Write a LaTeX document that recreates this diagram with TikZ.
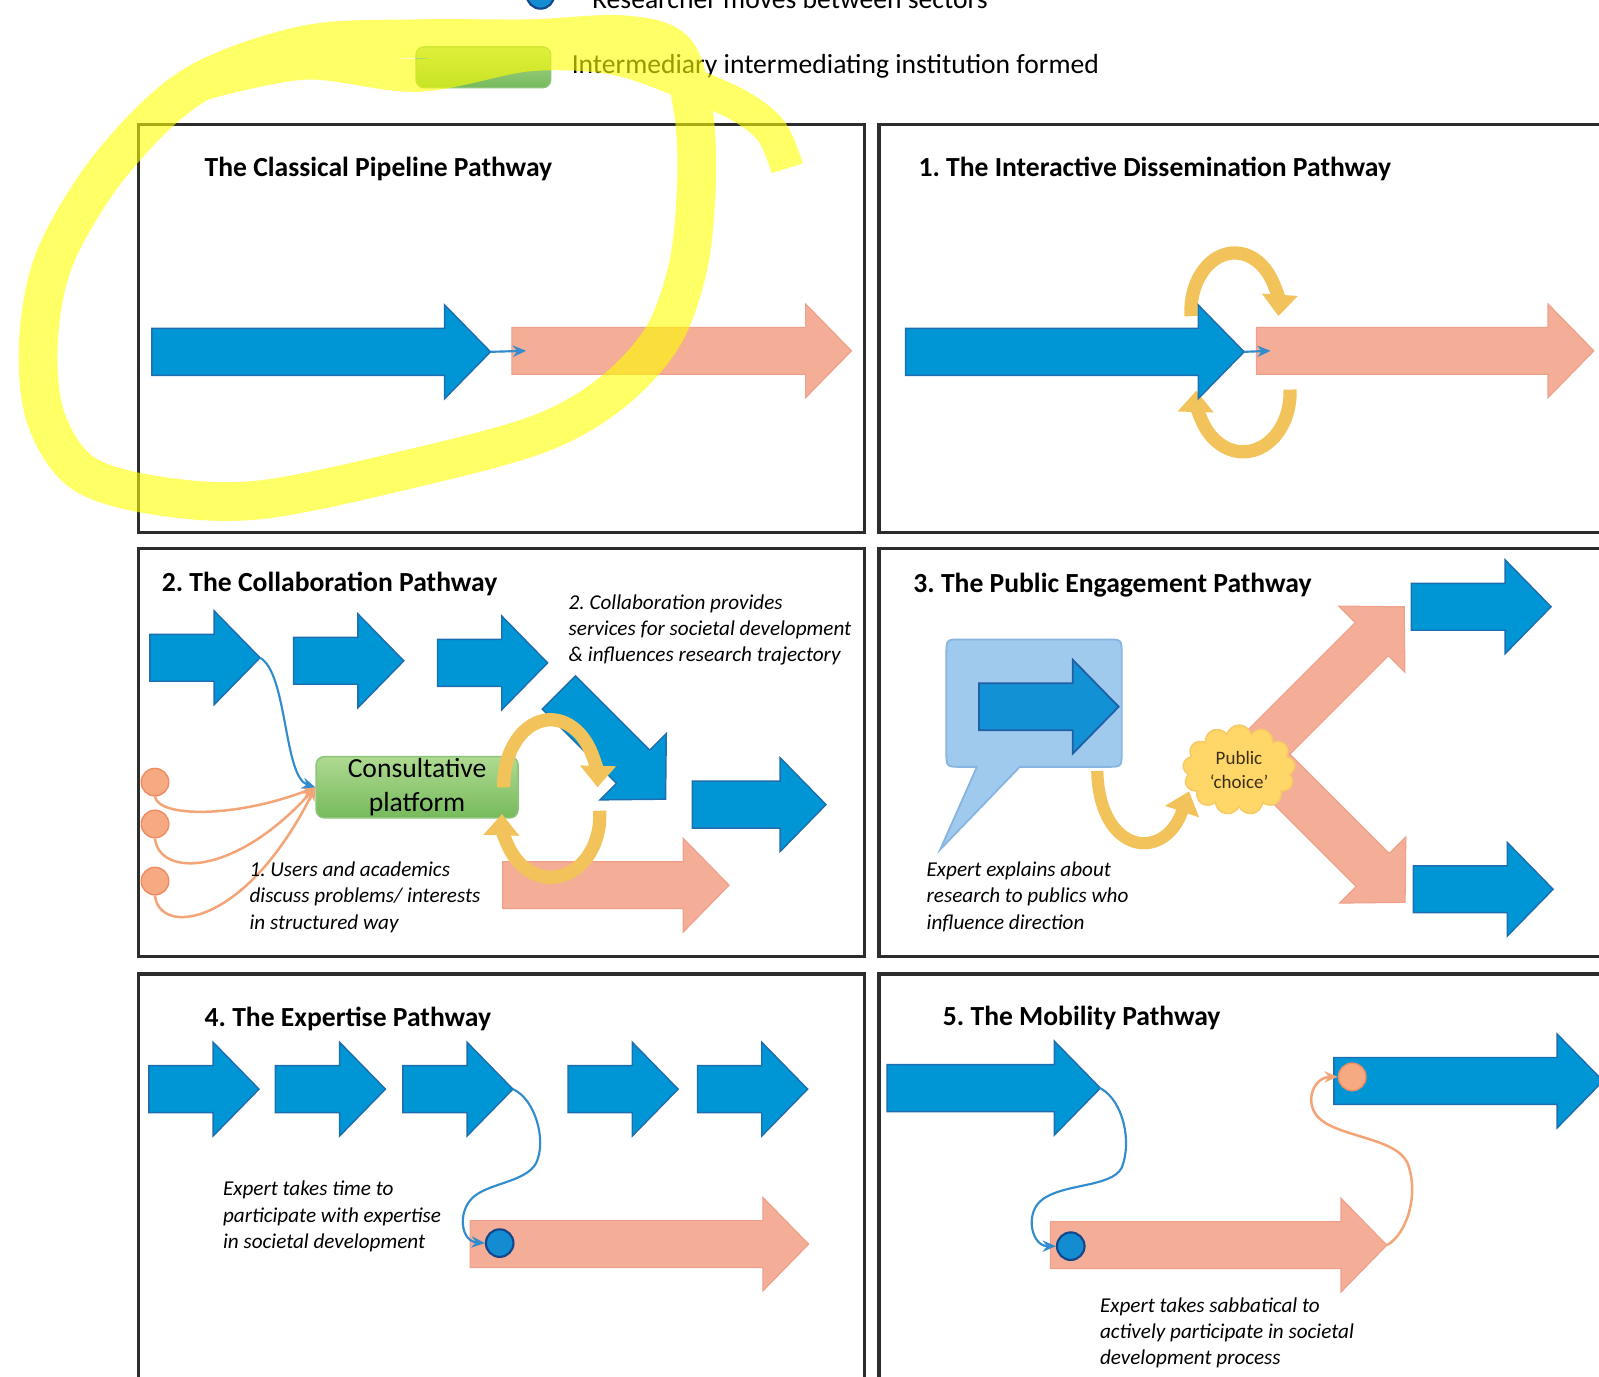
\documentclass[tikz,border=0pt]{standalone}
\usepackage{fontspec}
\setmainfont{Carlito}
\frenchspacing
\usetikzlibrary{arrows.meta,shapes.symbols}

\definecolor{framegray}{RGB}{45,45,45}
\definecolor{arrowblue}{RGB}{0,150,214}
\definecolor{arrowblueedge}{RGB}{30,110,175}
\definecolor{arrowpink}{RGB}{244,173,150}
\definecolor{arrowpinkedge}{RGB}{238,160,138}
\definecolor{bubblefill}{RGB}{160,201,238}
\definecolor{bubbleedge}{RGB}{135,180,225}
\definecolor{bubbleblue}{RGB}{18,145,212}
\definecolor{bubbleblueedge}{RGB}{30,95,165}
\definecolor{linkblue}{RGB}{50,140,205}
\definecolor{linkorange}{RGB}{244,165,120}
\definecolor{gold}{RGB}{242,195,90}
\definecolor{dotblue}{RGB}{20,140,210}
\definecolor{dotblueedge}{RGB}{20,70,140}
\definecolor{dotorange}{RGB}{246,170,130}
\definecolor{dotorangeedge}{RGB}{240,140,100}
\definecolor{greentop}{RGB}{175,218,145}
\definecolor{greenbottom}{RGB}{118,186,92}
\definecolor{greenedge}{RGB}{140,196,120}
\definecolor{cloudfill}{RGB}{255,215,105}
\definecolor{cloudedge}{RGB}{248,200,100}
\definecolor{cloudtext}{RGB}{60,45,20}
\definecolor{hlyellow}{RGB}{255,255,0}

\newcommand{\pathtitlefont}{\fontsize{7.7pt}{9pt}\selectfont\bfseries}
\newcommand{\notefont}{\fontsize{5.9pt}{7.3pt}\selectfont\itshape}
\newcommand{\legendfont}{\fontsize{7.7pt}{9pt}\selectfont}
\newcommand{\platformfont}{\fontsize{7.7pt}{9.4pt}\selectfont}
\newcommand{\cloudfont}{\fontsize{5.3pt}{6.5pt}\selectfont}

\begin{document}
\begin{tikzpicture}[x=0.01cm, y=-0.01cm,
    panel/.style = {draw=framegray, line width=0.9pt},
    bluearrow/.style = {fill=arrowblue, draw=arrowblueedge, line width=0.4pt},
    pinkarrow/.style = {fill=arrowpink, draw=arrowpinkedge, line width=0.3pt},
    bubblearrow/.style = {fill=bubbleblue, draw=bubbleblueedge, line width=0.5pt},
    pathtitle/.style = {anchor=base west, inner sep=0pt, font=\pathtitlefont},
    note/.style = {anchor=base west, inner sep=0pt, align=left, font=\notefont},
    legendtext/.style = {anchor=base west, inner sep=0pt, font=\legendfont},
    thinblue/.style = {draw=linkblue, line width=0.6pt, -{Stealth[length=1.3mm,width=1.1mm]}},
    thinorange/.style = {draw=linkorange, line width=0.7pt, -{Stealth[length=1.3mm,width=1.1mm]}},
    goldarc/.style = {draw=gold, line width=1.3mm, -{Triangle[width=3.4mm,length=2.1mm]}},
    bluedot/.style = {circle, fill=dotblue, draw=dotblueedge, line width=0.6pt, minimum size=2.7mm, inner sep=0pt},
    orangedot/.style = {circle, fill=dotorange, draw=dotorangeedge, line width=0.4pt, minimum size=2.7mm, inner sep=0pt},
    platform/.style = {rounded corners=0.8mm, top color=greentop, bottom color=greenbottom, draw=greenedge,
                       minimum width=1.98cm, minimum height=0.6cm, inner sep=0pt, align=center, font=\platformfont},
    choicecloud/.style = {cloud, cloud puffs=13, aspect=1.25, minimum width=1.1cm, minimum height=0.88cm,
                          inner sep=0pt, fill=cloudfill, draw=cloudedge, align=center, text=cloudtext, font=\cloudfont},
    highlight/.style = {draw=hlyellow, line join=round},
    pics/fatarrow/.style 2 args = {code={
        \filldraw[#2] (0,-23) -- (#1-45,-23) -- (#1-45,-46) -- (#1,0)
            -- (#1-45,46) -- (#1-45,23) -- (0,23) -- cycle;
        \coordinate (-tail) at (0,0);
        \coordinate (-in) at (14,0);
        \coordinate (-tip) at (#1,0);
    }}
]
\useasboundingbox (0,0) rectangle (1568,1350);

\node[bluedot] (mover) at (530,-5) {};
\node[legendtext] (movertext) at (580,8) {Researcher moves between sectors};
\node[platform, minimum width=1.32cm, minimum height=0.4cm] (legendbox) at (474,66) {};
\node[legendtext] (legendtext) at (560,72) {Intermediary intermediating institution formed};

\draw[panel] (136,122) rectangle (848,522);
\draw[panel] (862,122) rectangle (1600,522);
\draw[panel] (136,538) rectangle (848,938);
\draw[panel] (862,538) rectangle (1600,938);
\draw[panel] (136,955) rectangle (848,1400);
\draw[panel] (862,955) rectangle (1600,1400);

\node[pathtitle] (t0) at (200,173) {The Classical Pipeline Pathway};
\pic (cp1) at (149,345) {fatarrow={332}{bluearrow}};
\pic (cp2) at (502,344) {fatarrow={333}{pinkarrow}};
\draw[thinblue] (cp1-tip) -- (cp2-in);

\node[pathtitle] (t1) at (900,173) {1. The Interactive Dissemination Pathway};
\draw[goldarc] (1168,310) arc[start angle=175, end angle=365, x radius=43, y radius=57];
\draw[goldarc] (1265,382) arc[start angle=-3, end angle=182, x radius=46, y radius=58];
\pic (ip1) at (888,345) {fatarrow={332}{bluearrow}};
\pic (ip2) at (1232,344) {fatarrow={331}{pinkarrow}};
\draw[thinblue] (ip1-tip) -- (ip2-in);

\node[pathtitle] (t2) at (158,580) {2. The Collaboration Pathway};
\pic (a1) at (147,645) {fatarrow={108}{bluearrow}};
\pic (a2) at (288,648) {fatarrow={108}{bluearrow}};
\pic (a3) at (429,650) {fatarrow={108}{bluearrow}};
\pic[rotate=-45] (a4) at (548,679) {fatarrow={148}{bluearrow}};
\pic (a5) at (679,789) {fatarrow={131}{bluearrow}};
\pic (cpk) at (493,868) {fatarrow={222}{pinkarrow}};
\node[platform] (consult) at (409,772) {Consultative\\platform};
\foreach \name/\y in {u1/767, u2/808, u3/864}
    \node[orangedot] (\name) at (152,\y) {};
\draw[thinorange] (u1.south) .. controls (156,802) and (232,802) .. (consult.west);
\draw[thinorange] (u2.south) .. controls (156,860) and (230,860) .. (consult.west);
\draw[thinorange] (u3.south) .. controls (156,918) and (240,910) .. (consult.west);
\draw[thinblue] (a1-tip) .. controls (282,660) and (278,762) .. (consult.west);
\draw[goldarc] (494,772) arc[start angle=178, end angle=362, x radius=46, y radius=64];
\draw[goldarc] (588,795) arc[start angle=-5, end angle=182, x radius=48, y radius=60];
\node[note] (n2b) at (557,649) {2. Collaboration provides\\services for societal development\\\& influences research trajectory};
\node[note] (n2a) at (244,911) {1. Users and academics\\discuss problems/ interests\\in structured way};

\node[pathtitle] (t3) at (895,581) {3. The Public Engagement Pathway};
\pic[rotate=45] (pe1) at (1237,735) {fatarrow={198}{pinkarrow}};
\pic[rotate=-45] (pe2) at (1240,747) {fatarrow={195}{pinkarrow}};
\pic (pe3) at (1384,595) {fatarrow={137}{bluearrow}};
\pic (pe4) at (1386,872) {fatarrow={137}{bluearrow}};
\filldraw[fill=bubblefill, draw=bubbleedge, line width=0.5pt]
    (958,752) -- (922,833) -- (1000,752) -- (1085,752) .. controls (1100,752) .. (1100,737)
    -- (1100,642) .. controls (1100,627) .. (1085,627) -- (943,627) .. controls (928,627) .. (928,642)
    -- (928,737) .. controls (928,752) .. (943,752) -- cycle;
\pic (pe5) at (960,693) {fatarrow={137}{bubblearrow}};
\draw[goldarc, line width=1.2mm] (1076,756) .. controls (1078,838) and (1142,846) .. (1166,776);
\node[choicecloud] (choice) at (1215,755) {Public\\‘choice’};
\node[note] (n3) at (908,911) {Expert explains about\\research to publics who\\influence direction};

\node[pathtitle] (t4) at (200,1007) {4. The Expertise Pathway};
\foreach \name/\x in {e1/146, e2/270, e3/395, e4/557, e5/684}
    \pic (\name) at (\x,1068) {fatarrow={108}{bluearrow}};
\pic (epk) at (461,1220) {fatarrow={332}{pinkarrow}};
\node[bluedot] (edot) at (490,1219) {};
\draw[thinblue] (e3-tip) .. controls (525,1078) and (536,1118) .. (526,1140)
    .. controls (516,1160) and (476,1160) .. (462,1176)
    .. controls (449,1190) and (452,1217) .. (edot.west);
\node[note] (n4) at (218,1224) {Expert takes time to\\participate with expertise\\in societal development};

\node[pathtitle] (t5) at (924,1006) {5. The Mobility Pathway};
\pic (m1) at (870,1067) {fatarrow={209}{bluearrow}};
\pic (m2) at (1308,1060) {fatarrow={264}{bluearrow}};
\pic (mpk) at (1030,1221) {fatarrow={330}{pinkarrow}};
\node[bluedot] (mdot) at (1050,1222) {};
\node[orangedot] (odot) at (1326,1056) {};
\draw[thinblue] (m1-tip) .. controls (1102,1080) and (1110,1120) .. (1100,1145)
    .. controls (1090,1165) and (1040,1160) .. (1020,1178)
    .. controls (1005,1192) and (1012,1222) .. (mdot.west);
\draw[thinorange] (mpk-tip) .. controls (1380,1210) and (1392,1170) .. (1380,1140)
    .. controls (1368,1115) and (1310,1115) .. (1292,1095)
    .. controls (1278,1078) and (1290,1056) .. (odot.west);
\node[note] (n5) at (1078,1338) {Expert takes sabbatical to\\actively participate in societal\\development process};

\begin{scope}[transparency group, opacity=0.6]
\draw[highlight, line width=3.8mm] plot[smooth cycle, tension=0.55] coordinates {(520,38) (610,34) (662,50)
    (680,110) (683,180) (675,260) (650,330) (600,385) (530,425) (410,458) (256,490) (154,486)
    (80,463) (44,407) (38,330) (55,250) (110,160) (190,84) (300,44) (410,38)};
\draw[highlight, line width=3.2mm] plot[smooth, tension=0.55] coordinates {(200,82) (300,62)
    (410,74) (518,54) (600,57) (665,78) (722,102) (756,128) (772,165)};
\end{scope}
\end{tikzpicture}
\end{document}
